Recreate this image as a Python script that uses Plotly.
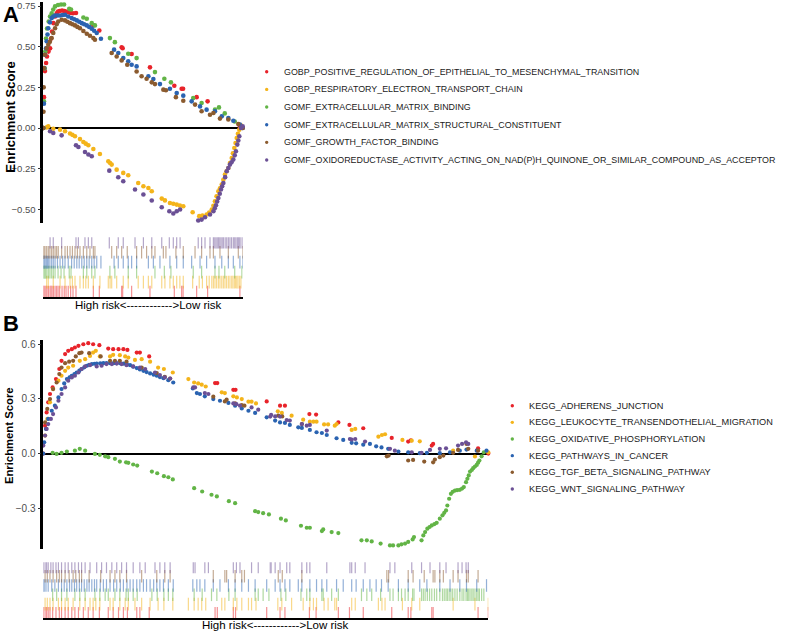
import plotly.graph_objects as go

# ---------------- data: panel A (GO) ----------------
A_NAMES = ["GOBP_POSITIVE_REGULATION_OF_EPITHELIAL_TO_MESENCHYMAL_TRANSITION",
           "GOBP_RESPIRATORY_ELECTRON_TRANSPORT_CHAIN",
           "GOMF_EXTRACELLULAR_MATRIX_BINDING",
           "GOMF_EXTRACELLULAR_MATRIX_STRUCTURAL_CONSTITUENT",
           "GOMF_GROWTH_FACTOR_BINDING",
           "GOMF_OXIDOREDUCTASE_ACTIVITY_ACTING_ON_NAD(P)H_QUINONE_OR_SIMILAR_COMPOUND_AS_ACCEPTOR"]

A_RED_X = [0, 0.35, 0.85, 1.4, 1.86, 2.6, 3.4, 3.9, 4.4, 5.1, 5.9, 6.7, 7.4, 8.2, 9.4, 10.5, 11.4, 12.5, 13.7,
           14.9, 16.4, 25.1, 28.1, 39.3, 39.8, 44.3, 53.5, 65.7, 69.4, 70.1, 76.9, 82.4, 98.6]
A_RED_Y = [0, 0.19, 0.35, 0.40, 0.44, 0.47, 0.49, 0.55, 0.594, 0.645, 0.686, 0.705, 0.717, 0.72, 0.723, 0.72,
           0.717, 0.712, 0.708, 0.706, 0.707, 0.631, 0.600, 0.496, 0.491, 0.455, 0.373, 0.260, 0.242, 0.242,
           0.190, 0.164, 0.010]

A_YEL_X = [1.7, 2.5, 5.0, 8.4, 10.9, 13.4, 14.6, 15.9, 18.4, 20.1, 21.3, 22.6, 25.1, 28.4, 32.6, 33.5, 34.3,
           36.8, 40.1, 42.6, 47.6, 50.2, 52.7, 54.4, 59.4, 61.0, 63.5, 65.2, 66.9, 68.5, 70.2, 74.9, 78.2, 79.8,
           81.9, 83.2, 84.5, 85.3, 86.1, 86.9, 87.8, 88.6, 89.5, 90.3, 91.1, 91.9, 92.8, 93.6, 94.5, 95.1, 95.8,
           96.4, 97.0, 97.6, 98.3, 99.1]
A_YEL_Y = [0.004, 0.010, -0.004, -0.010, -0.020, -0.034, -0.042, -0.051, -0.068, -0.086, -0.096, -0.106,
           -0.129, -0.160, -0.205, -0.215, -0.225, -0.256, -0.276, -0.290, -0.338, -0.358, -0.369, -0.389,
           -0.434, -0.445, -0.461, -0.466, -0.471, -0.476, -0.481, -0.518, -0.542, -0.538, -0.532, -0.520,
           -0.501, -0.478, -0.450, -0.420, -0.389, -0.370, -0.348, -0.318, -0.286, -0.266, -0.246, -0.215,
           -0.184, -0.155, -0.123, -0.092, -0.061, -0.035, -0.010, 0.017]

A_GRN_X = [0, 0.35, 0.7, 1.0, 1.35, 1.86, 2.7, 3.36, 4.2, 5.0, 5.9, 7.4, 8.9, 10.4, 13.0, 13.9, 20.1, 21.8,
           24.3, 25.9, 33.4, 35.9, 42.6, 46.8, 56.0, 60.7, 64.0, 75.2, 79.4, 86.1, 88.1, 91.0, 96.0, 99.6]
A_GRN_Y = [0, 0.164, 0.367, 0.471, 0.551, 0.612, 0.655, 0.686, 0.705, 0.729, 0.748, 0.757, 0.760, 0.760,
           0.733, 0.729, 0.680, 0.672, 0.645, 0.631, 0.553, 0.528, 0.457, 0.430, 0.344, 0.303, 0.281, 0.184,
           0.154, 0.113, 0.127, 0.090, 0.040, 0.004]

A_BLU_X = [0, 0.3, 0.5, 0.85, 1.35, 1.7, 2.1, 2.5, 3.3, 4.2, 5.0, 5.9, 7.1, 8.4, 9.7, 10.9, 12.5, 14.2, 15.5,
           16.8, 18.0, 19.3, 20.5, 21.8, 23.0, 24.3, 25.5, 26.8, 28.9, 35.5, 37.6, 40.1, 42.6, 44.3, 46.8,
           52.7, 55.2, 58.5, 63.5, 66.9, 70.2, 74.4, 78.6, 81.9, 86.1, 89.5, 92.8, 95.3, 98.6, 100]
A_BLU_Y = [0, 0.15, 0.369, 0.45, 0.49, 0.533, 0.575, 0.614, 0.650, 0.676, 0.686, 0.692, 0.692, 0.692, 0.695,
           0.697, 0.686, 0.676, 0.669, 0.662, 0.654, 0.645, 0.638, 0.631, 0.622, 0.611, 0.598, 0.584, 0.549,
           0.482, 0.461, 0.430, 0.410, 0.389, 0.379, 0.318, 0.301, 0.270, 0.242, 0.215, 0.199, 0.164, 0.133,
           0.113, 0.103, 0.072, 0.061, 0.045, 0.021, 0.0]

A_BRN_X = [0, 0.1, 0.2, 0.35, 0.85, 1.7, 2.5, 3.3, 4.2, 5.0, 5.9, 6.7, 7.5, 9.2, 10.9, 12.1, 13.4, 14.6, 15.9,
           17.1, 18.4, 20.1, 21.8, 23.4, 25.1, 25.9, 34.3, 36.8, 39.3, 42.1, 46.8, 49.3, 51.8, 54.4, 56.0,
           60.2, 61.5, 66.5, 70.2, 76.1, 79.4, 83.6, 85.3, 88.6, 92.8, 97.8, 100]
A_BRN_Y = [0, 0.10, 0.25, 0.369, 0.451, 0.491, 0.512, 0.530, 0.553, 0.585, 0.614, 0.638, 0.655, 0.666, 0.662,
           0.654, 0.645, 0.638, 0.631, 0.622, 0.614, 0.597, 0.580, 0.567, 0.553, 0.543, 0.461, 0.440, 0.416,
           0.389, 0.348, 0.318, 0.303, 0.281, 0.270, 0.236, 0.232, 0.190, 0.168, 0.144, 0.103, 0.082, 0.092,
           0.058, 0.052, 0.025, 0.0]

A_PUR_X = [3.4, 5.0, 9.2, 16.4, 17.6, 20.9, 22.6, 24.3, 33.1, 37.6, 40.1, 46.0, 50.2, 54.4, 59.4, 63.2, 65.2,
           66.9, 68.6, 77.7, 79.4, 81.1, 83.6, 85.3, 86.0, 86.6, 87.2, 87.8, 88.5, 89.1, 89.7, 90.3, 91.2, 92.0,
           92.8, 93.6, 94.4, 95.3, 96.0, 96.6, 97.3, 97.8, 98.3, 99.1, 100]
A_PUR_Y = [-0.020, -0.031, -0.045, -0.106, -0.117, -0.147, -0.163, -0.174, -0.262, -0.303, -0.327, -0.378,
           -0.409, -0.446, -0.487, -0.512, -0.526, -0.512, -0.501, -0.569, -0.563, -0.549, -0.532, -0.512,
           -0.494, -0.475, -0.452, -0.430, -0.404, -0.378, -0.358, -0.338, -0.302, -0.266, -0.246, -0.225,
           -0.210, -0.194, -0.168, -0.143, -0.102, -0.077, -0.051, 0.0, 0.010]

# ---------------- data: panel B (KEGG) ----------------
B_NAMES = ["KEGG_ADHERENS_JUNCTION",
           "KEGG_LEUKOCYTE_TRANSENDOTHELIAL_MIGRATION",
           "KEGG_OXIDATIVE_PHOSPHORYLATION",
           "KEGG_PATHWAYS_IN_CANCER",
           "KEGG_TGF_BETA_SIGNALING_PATHWAY",
           "KEGG_WNT_SIGNALING_PATHWAY"]

B_RED_X = [0, 0.4, 0.75, 1.1, 1.5, 2.1, 2.85, 3.6, 4.1, 4.9, 5.6, 6.4, 7.1, 7.9, 9.0, 10.1, 11.2, 12.6, 14.6,
           15.7, 16.9, 18.0, 18.9, 21.0, 21.7, 23.8, 38.6, 39.1, 42.7, 43.2, 50.2, 53.2, 54.3, 59.8, 61.3,
           66.3, 68.8, 71.9, 78.3, 82.0, 82.6, 87.3, 87.6, 97.7, 100]
B_RED_Y = [0, 0.153, 0.226, 0.281, 0.327, 0.363, 0.409, 0.464, 0.509, 0.546, 0.564, 0.573, 0.582, 0.591,
           0.600, 0.606, 0.600, 0.595, 0.576, 0.573, 0.573, 0.573, 0.569, 0.554, 0.554, 0.533, 0.387, 0.387,
           0.350, 0.350, 0.286, 0.263, 0.263, 0.217, 0.214, 0.171, 0.157, 0.139, 0.086, 0.066, 0.072, 0.044,
           0.053, 0.029, 0.0]

B_YEL_X = [0.4, 0.9, 1.5, 2.2, 3.4, 4.1, 4.9, 5.6, 6.7, 8.2, 9.4, 10.5, 11.2, 11.8, 12.7, 15.0, 15.7, 17.2,
           18.4, 19.1, 20.6, 22.1, 24.0, 25.8, 27.1, 29.1, 32.6, 33.9, 34.8, 35.6, 36.5, 40.1, 40.8, 42.7, 43.5,
           44.6, 46.1, 46.8, 47.8, 52.7, 53.6, 55.8, 58.4, 59.9, 60.7, 61.4, 63.1, 64.0, 65.5, 65.9, 69.3,
           70.1, 75.3, 76.1, 76.8, 80.7, 82.8, 84.6, 92.1, 97.0, 100]
B_YEL_Y = [0.099, 0.190, 0.281, 0.354, 0.400, 0.427, 0.454, 0.472, 0.482, 0.509, 0.518, 0.536, 0.554, 0.564,
           0.533, 0.533, 0.542, 0.540, 0.533, 0.527, 0.514, 0.518, 0.504, 0.472, 0.464, 0.445, 0.409, 0.390,
           0.385, 0.378, 0.368, 0.336, 0.332, 0.314, 0.308, 0.299, 0.285, 0.285, 0.275, 0.232, 0.223, 0.208,
           0.186, 0.175, 0.175, 0.175, 0.160, 0.160, 0.153, 0.162, 0.130, 0.135, 0.093, 0.102, 0.106, 0.075,
           0.071, 0.067, 0.016, -0.016, 0.007]

B_GRN_X = [2.1, 3.0, 4.1, 5.3, 7.1, 8.2, 9.4, 11.6, 12.7, 13.9, 14.6, 16.1, 17.2, 18.6, 19.1, 20.2, 21.1,
           24.4, 25.6, 27.1, 28.1, 29.1, 33.9, 35.7, 37.8, 39.0, 41.7, 43.1, 47.6, 48.3, 49.4, 50.7, 53.4,
           54.5, 57.9, 59.2, 59.9, 62.6, 62.9, 64.8, 66.3, 71.5, 72.7, 73.8, 75.8, 77.9, 78.6, 79.8, 80.5,
           81.3, 82.0, 83.0, 83.3, 85.0, 85.4, 85.8, 86.3, 86.8, 87.3, 87.9, 88.4, 89.1, 89.7, 90.1, 90.5,
           90.8, 91.2, 91.6, 92.0, 92.5, 93.0, 93.6, 94.1, 94.5, 95.0, 95.3, 95.6, 95.9, 96.3, 96.6, 97.0,
           97.4, 97.7, 98.0, 98.5, 99.0]
B_GRN_Y = [0.004, -0.002, 0.004, 0.011, 0.016, 0.026, 0.016, -0.002, -0.007, -0.015, -0.020, -0.029, -0.044,
           -0.048, -0.051, -0.060, -0.066, -0.099, -0.108, -0.124, -0.130, -0.142, -0.190, -0.208, -0.226,
           -0.235, -0.261, -0.272, -0.316, -0.321, -0.327, -0.334, -0.357, -0.367, -0.396, -0.407, -0.407,
           -0.425, -0.416, -0.431, -0.436, -0.476, -0.476, -0.482, -0.494, -0.504, -0.504, -0.504, -0.498,
           -0.494, -0.485, -0.471, -0.458, -0.476, -0.449, -0.431, -0.412, -0.403, -0.394, -0.387, -0.380,
           -0.357, -0.339, -0.325, -0.312, -0.285, -0.248, -0.221, -0.210, -0.203, -0.201, -0.199, -0.192,
           -0.184, -0.157, -0.138, -0.120, -0.099, -0.090, -0.080, -0.071, -0.062, -0.050, -0.038, -0.015,
           0.007]

B_BLU_X = [0, 0.2, 0.6, 1.1, 1.9, 2.6, 3.4, 4.1, 4.7, 5.3, 5.9, 6.4, 7.0, 7.5, 8.1, 8.6, 9.2, 9.8, 10.3, 10.9,
           11.5, 12.0, 12.8, 13.5, 14.2, 15.0, 15.8, 16.5, 17.3, 18.0, 18.8, 19.5, 20.2, 21.0, 21.7, 22.5, 23.2,
           24.0, 24.8, 25.5, 26.2, 27.0, 28.1, 29.2, 33.6, 34.5, 35.2, 36.3, 38.2, 39.7, 41.6, 43.1, 44.6, 46.1,
           47.6, 50.2, 52.1, 53.2, 54.3, 55.4, 57.3, 58.1, 59.9, 61.4, 62.6, 63.7, 65.9, 67.4, 69.3, 70.3,
           71.9, 73.4, 74.8, 76.0, 77.5, 79.8, 82.0, 84.6, 86.2, 89.1, 91.4, 93.6, 95.1, 97.4, 99.6]
B_BLU_Y = [0, 0.062, 0.135, 0.190, 0.235, 0.263, 0.308, 0.354, 0.385, 0.409, 0.418, 0.427, 0.436, 0.445, 0.455,
           0.464, 0.473, 0.482, 0.487, 0.491, 0.493, 0.494, 0.495, 0.496, 0.496, 0.496, 0.496, 0.496, 0.495,
           0.494, 0.490, 0.485, 0.477, 0.469, 0.462, 0.454, 0.447, 0.440, 0.433, 0.427, 0.420, 0.414, 0.403,
           0.390, 0.357, 0.332, 0.327, 0.314, 0.299, 0.290, 0.278, 0.263, 0.248, 0.235, 0.223, 0.199, 0.181,
           0.171, 0.168, 0.157, 0.144, 0.141, 0.130, 0.117, 0.113, 0.102, 0.084, 0.075, 0.059, 0.056, 0.049,
           0.053, 0.040, 0.034, 0.026, 0.011, 0.007, 0.002, 0.004, 0.002, 0.007, 0.016, 0.022, 0.016, 0.016]

B_BRN_X = [0.4, 0.9, 1.5, 2.2, 3.0, 3.6, 4.1, 4.9, 5.8, 6.7, 7.3, 8.1, 8.6, 10.3, 12.9, 15.0, 16.1, 17.2,
           18.7, 22.1, 25.5, 27.3, 28.5, 38.2, 40.8, 41.2, 43.1, 44.6, 45.2, 52.8, 53.7, 58.1, 77.2, 77.6,
           82.0, 83.1, 85.6, 87.6, 88.0, 89.1, 89.9, 92.1, 93.2, 95.1, 95.5, 97.7]
B_BRN_Y = [0.171, 0.245, 0.299, 0.354, 0.390, 0.436, 0.472, 0.496, 0.504, 0.509, 0.533, 0.551, 0.554, 0.551,
           0.533, 0.509, 0.509, 0.509, 0.504, 0.472, 0.442, 0.421, 0.412, 0.312, 0.286, 0.296, 0.275, 0.266,
           0.263, 0.208, 0.204, 0.162, -0.015, -0.011, -0.038, -0.035, -0.044, -0.048, -0.033, -0.020, -0.011,
           0.004, 0.020, 0.053, 0.026, 0.016]

B_PUR_X = [0, 0.4, 0.75, 1.1, 1.7, 2.2, 2.85, 3.4, 4.1, 4.9, 5.6, 6.4, 7.1, 7.9, 8.6, 9.4, 10.5, 12.0, 13.1,
           14.2, 15.4, 16.5, 17.6, 18.7, 20.2, 21.7, 22.9, 25.1, 26.2, 27.3, 28.5, 33.7, 34.1, 36.3, 37.1,
           42.7, 43.4, 44.2, 46.8, 48.3, 51.0, 51.2, 52.1, 53.2, 54.7, 55.4, 58.1, 59.2, 59.9, 63.7, 68.9,
           69.3, 70.1, 72.3, 77.9, 79.0, 82.8, 85.0, 86.9, 89.1, 90.5, 93.2, 94.1, 95.0, 95.5]
B_PUR_Y = [0.044, 0.099, 0.135, 0.162, 0.190, 0.217, 0.253, 0.290, 0.327, 0.363, 0.400, 0.418, 0.427, 0.445,
           0.464, 0.478, 0.485, 0.478, 0.482, 0.491, 0.491, 0.494, 0.491, 0.485, 0.478, 0.472, 0.464, 0.445,
           0.431, 0.418, 0.412, 0.363, 0.363, 0.332, 0.327, 0.275, 0.271, 0.263, 0.253, 0.241, 0.203, 0.212,
           0.204, 0.203, 0.184, 0.181, 0.162, 0.153, 0.157, 0.126, 0.080, 0.077, 0.080, 0.066, 0.026, 0.016,
           0.007, 0.004, 0.020, 0.026, 0.029, 0.044, 0.053, 0.062, 0.053]

RUG_LABEL = "High risk<------------>Low risk"

# ---------------- styles ----------------
COLORS = ["#E8232A", "#F4B41A", "#62B446", "#2A63B1", "#8B5B2F", "#6B5095"]
FONT = "Liberation Sans, Arial, sans-serif"
W, H = 800, 631


def fx(p):
    return p / W


def fy(p):
    return 1 - p / H


A_SERIES = [(A_RED_X, A_RED_Y), (A_YEL_X, A_YEL_Y), (A_GRN_X, A_GRN_Y),
            (A_BLU_X, A_BLU_Y), (A_BRN_X, A_BRN_Y), (A_PUR_X, A_PUR_Y)]
B_SERIES = [(B_RED_X, B_RED_Y), (B_YEL_X, B_YEL_Y), (B_GRN_X, B_GRN_Y),
            (B_BLU_X, B_BLU_Y), (B_BRN_X, B_BRN_Y), (B_PUR_X, B_PUR_Y)]

fig = go.Figure()

panels = [
    dict(series=A_SERIES, names=A_NAMES, main=("x", "y"), rug=("x2", "y2"), msize=4.6, rugsize=9),
    dict(series=B_SERIES, names=B_NAMES, main=("x3", "y3"), rug=("x4", "y4"), msize=4.2, rugsize=9),
]

for p in panels:
    for i, ((xs, ys), name) in enumerate(zip(p["series"], p["names"])):
        fig.add_trace(go.Scatter(x=xs, y=ys, mode="markers", name=name, showlegend=False,
                                 xaxis=p["main"][0], yaxis=p["main"][1], cliponaxis=False,
                                 marker=dict(size=p["msize"], color=COLORS[i], line=dict(width=0))))
    for i, ((xs, ys), name) in enumerate(zip(p["series"], p["names"])):
        row = i + 1  # red bottom row, purple top row
        fig.add_trace(go.Scatter(x=xs, y=[row] * len(xs), mode="markers", showlegend=False,
                                 xaxis=p["rug"][0], yaxis=p["rug"][1], opacity=0.5,
                                 marker=dict(symbol="line-ns", size=p["rugsize"],
                                             line=dict(width=1.2, color=COLORS[i]))))

# axis geometry (pixels)
A_LEFT, A_RIGHT = 43.3, 242.7
B_LEFT, B_RIGHT = 43.3, 488.3

yax_common = dict(showgrid=False, showline=True, linecolor="black", linewidth=2.6, ticks="outside",
                  ticklen=3, tickwidth=1, tickcolor="#333333", zeroline=True, zerolinecolor="black",
                  zerolinewidth=2, ticklabeloverflow="allow")

fig.update_layout(
    width=W, height=H, margin=dict(l=0, r=0, t=0, b=0),
    paper_bgcolor="white", plot_bgcolor="white",
    font=dict(family=FONT, color="#4D4D4D"),
    xaxis=dict(domain=[fx(A_LEFT), fx(A_RIGHT)], range=[0, 100], visible=False),
    yaxis=dict(domain=[fy(221.7), fy(0)], range=[-0.584, 0.775], tickvals=[-0.5, -0.25, 0, 0.25, 0.5, 0.75],
               tickformat=".2f", tickfont=dict(size=9.5, color="#4D4D4D", family=FONT), **yax_common),
    xaxis2=dict(domain=[fx(A_LEFT), fx(A_RIGHT)], range=[0, 100], showline=True, linecolor="black",
                linewidth=2, showticklabels=False, ticks="", showgrid=False, zeroline=False, anchor="y2"),
    yaxis2=dict(domain=[fy(296), fy(236)], range=[0.5, 6.5], visible=False, anchor="x2"),
    xaxis3=dict(domain=[fx(B_LEFT), fx(B_RIGHT)], range=[0, 100], visible=False, anchor="y3"),
    yaxis3=dict(domain=[fy(549), fy(339.3)], range=[-0.525, 0.622], tickvals=[-0.3, 0, 0.3, 0.6],
                tickformat=".1f", tickfont=dict(size=10, color="#4D4D4D", family=FONT), anchor="x3",
                **yax_common),
    xaxis4=dict(domain=[fx(B_LEFT), fx(B_RIGHT)], range=[0, 100], showline=True, linecolor="black",
                linewidth=2, showticklabels=False, ticks="", showgrid=False, zeroline=False, anchor="y4"),
    yaxis4=dict(domain=[fy(618), fy(562)], range=[0.5, 6.5], visible=False, anchor="x4"),
)

ann = []
shapes = []
# panel letters
ann.append(dict(text="<b>A</b>", x=fx(0.5), y=fy(13), xref="paper", yref="paper", xanchor="left",
                yanchor="middle", showarrow=False, font=dict(size=22, color="black", family=FONT)))
ann.append(dict(text="<b>B</b>", x=fx(1), y=fy(323), xref="paper", yref="paper", xanchor="left",
                yanchor="middle", showarrow=False, font=dict(size=22, color="black", family=FONT)))
# y titles
ann.append(dict(text="<b>Enrichment Score</b>", x=fx(11), y=fy(116), xref="paper", yref="paper",
                textangle=-90, showarrow=False, xanchor="center", yanchor="middle",
                font=dict(size=13, color="black", family=FONT)))
ann.append(dict(text="<b>Enrichment Score</b>", x=fx(8.5), y=fy(435), xref="paper", yref="paper",
                textangle=-90, showarrow=False, xanchor="center", yanchor="middle",
                font=dict(size=11.3, color="black", family=FONT)))
# rug labels
ann.append(dict(text=RUG_LABEL, x=fx(148), y=fy(303.5), xref="paper", yref="paper", showarrow=False,
                xanchor="center", yanchor="middle", font=dict(size=11.5, color="black", family=FONT)))
ann.append(dict(text=RUG_LABEL, x=fx(275), y=fy(624.5), xref="paper", yref="paper", showarrow=False,
                xanchor="center", yanchor="middle", font=dict(size=11.5, color="black", family=FONT)))

# manual legends
legends = [
    dict(names=A_NAMES, mx=266.7, tx=281.5, y0=70.0, dy=17.7, size=8.9),
    dict(names=B_NAMES, mx=512.3, tx=526.5, y0=405.0, dy=16.7, size=9.2),
]
for lg in legends:
    for i, name in enumerate(lg["names"]):
        yc = lg["y0"] + i * lg["dy"]
        r = 1.7
        shapes.append(dict(type="circle", xref="paper", yref="paper",
                           x0=fx(lg["mx"] - r), x1=fx(lg["mx"] + r), y0=fy(yc + r), y1=fy(yc - r),
                           fillcolor=COLORS[i], line=dict(width=0)))
        ann.append(dict(text=name, x=fx(lg["tx"]), y=fy(yc), xref="paper", yref="paper", showarrow=False,
                        xanchor="left", yanchor="middle", font=dict(size=lg["size"], color="#1A1A1A", family=FONT)))

fig.update_layout(annotations=ann, shapes=shapes)
fig.write_html("out.html", config={"displayModeBar": False},
               post_script="document.body.style.margin='0';document.body.style.overflow='hidden';")
